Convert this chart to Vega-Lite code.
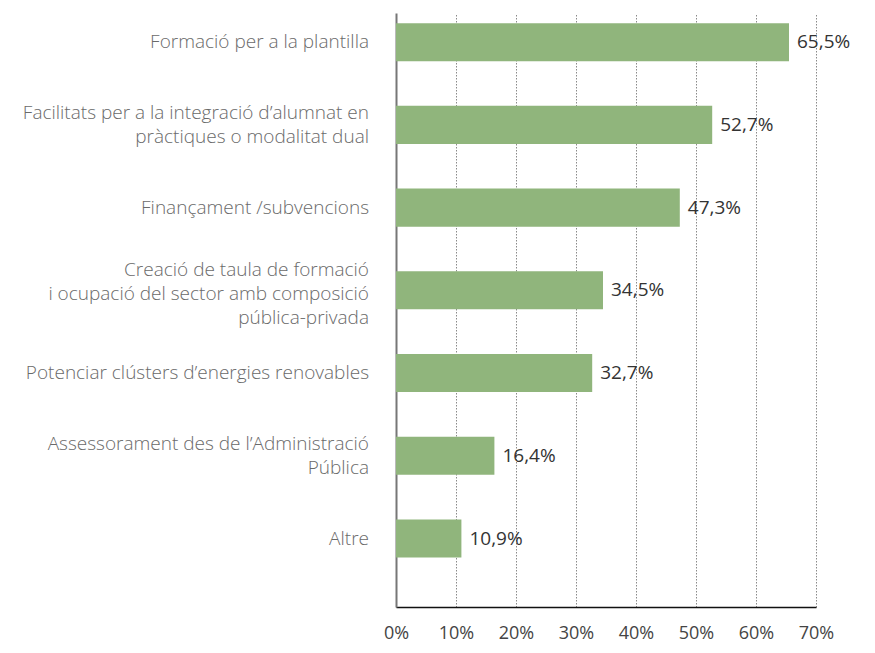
{
  "$schema": "https://vega.github.io/schema/vega-lite/v6.json",
  "width": 420,
  "height": 594,
  "autosize": {"type": "none"},
  "padding": {"left": 396, "top": 13, "right": 59, "bottom": 46},
  "background": "white",
  "config": {
    "locale": {"number": {"decimal": ",", "thousands": ".", "grouping": [3], "currency": ["", " €"]}},
    "view": {"stroke": null},
    "font": "Open Sans"
  },
  "data": {
    "values": [
      {"item": "Formació per a la plantilla", "lines": ["Formació per a la plantilla"], "value": 0.655},
      {"item": "Facilitats", "lines": ["Facilitats per a la integració d’alumnat en", "pràctiques o modalitat dual"], "value": 0.527},
      {"item": "Finançament /subvencions", "lines": ["Finançament /subvencions"], "value": 0.473},
      {"item": "Creació", "lines": ["Creació de taula de formació", "i ocupació del sector amb composició", "pública-privada"], "value": 0.345},
      {"item": "Potenciar clústers d’energies renovables", "lines": ["Potenciar clústers d’energies renovables"], "value": 0.327},
      {"item": "Assessorament", "lines": ["Assessorament des de l’Administració", "Pública"], "value": 0.164},
      {"item": "Altre", "lines": ["Altre"], "value": 0.109}
    ]
  },
  "encoding": {
    "y": {
      "field": "item",
      "type": "nominal",
      "sort": null,
      "scale": {"paddingInner": 0.54, "paddingOuter": 0.36, "align": 0.17},
      "axis": {
        "title": null,
        "ticks": false,
        "labels": false,
        "domainColor": "#777777",
        "domainWidth": 2
      }
    },
    "x": {
      "field": "value",
      "type": "quantitative",
      "scale": {"domain": [0, 0.7], "nice": false},
      "axis": {
        "title": null,
        "format": ".0%",
        "values": [0, 0.1, 0.2, 0.3, 0.4, 0.5, 0.6, 0.7],
        "ticks": false,
        "grid": true,
        "gridColor": "#8a8a8a",
        "gridDash": [1.5, 1.5],
        "gridWidth": 1,
        "domainColor": "#111111",
        "domainWidth": 1.5,
        "labelFont": "Open Sans",
        "labelFontSize": 18,
        "labelColor": "#444444",
        "labelPadding": 17,
        "labelFlush": false
      }
    }
  },
  "layer": [
    {"mark": {"type": "bar", "color": "#90b57c"}},
    {
      "mark": {"type": "text", "align": "left", "baseline": "middle", "dx": 8, "fontSize": 19, "color": "#333333", "font": "Open Sans"},
      "encoding": {"text": {"field": "value", "type": "quantitative", "format": ".1%"}}
    },
    {
      "transform": [{"filter": "length(datum.lines) == 1"}],
      "mark": {"type": "text", "align": "right", "baseline": "middle", "dx": -27, "fontSize": 19, "fontWeight": 300, "lineHeight": 24, "color": "#6a6a6a", "font": "Open Sans"},
      "encoding": {"x": {"datum": 0}, "text": {"field": "lines"}}
    },
    {
      "transform": [{"filter": "length(datum.lines) == 2"}],
      "mark": {"type": "text", "align": "right", "baseline": "middle", "dx": -27, "dy": -12, "fontSize": 19, "fontWeight": 300, "lineHeight": 24, "color": "#6a6a6a", "font": "Open Sans"},
      "encoding": {"x": {"datum": 0}, "text": {"field": "lines"}}
    },
    {
      "transform": [{"filter": "length(datum.lines) == 3"}],
      "mark": {"type": "text", "align": "right", "baseline": "middle", "dx": -27, "dy": -20, "fontSize": 19, "fontWeight": 300, "lineHeight": 24, "color": "#6a6a6a", "font": "Open Sans"},
      "encoding": {"x": {"datum": 0}, "text": {"field": "lines"}}
    }
  ]
}
